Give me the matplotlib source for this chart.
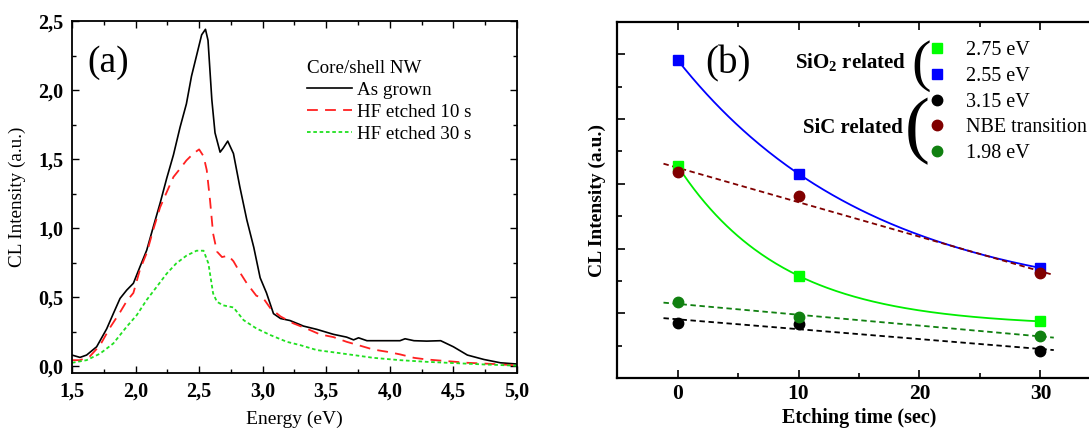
import numpy as np
import matplotlib
matplotlib.use("Agg")
import matplotlib.pyplot as plt
from matplotlib.ticker import MultipleLocator, FuncFormatter

plt.rcParams['font.family'] = ['Liberation Serif', 'DejaVu Serif']
plt.rcParams['mathtext.fontset'] = 'custom'
plt.rcParams['mathtext.rm'] = 'Liberation Serif'
plt.rcParams['mathtext.bf'] = 'Liberation Serif:bold'

# ---------------- Panel (a) data: CL spectra ----------------
E_grown = [1.50, 1.563, 1.615, 1.694, 1.773, 1.825, 1.878, 1.93, 1.983, 2.035, 2.088, 2.14,
           2.193, 2.245, 2.298, 2.35, 2.40, 2.44, 2.48, 2.52, 2.55, 2.57, 2.60, 2.625, 2.665,
           2.69, 2.725, 2.77, 2.82, 2.875, 2.93, 2.98, 3.03, 3.085, 3.14, 3.215, 3.295, 3.32,
           3.426, 3.557, 3.66, 3.715, 3.754, 3.82, 3.95, 4.08, 4.12, 4.19, 4.29, 4.40, 4.50,
           4.61, 4.74, 4.87, 5.0]
I_grown = [0.08, 0.063, 0.08, 0.14, 0.27, 0.38, 0.49, 0.55, 0.60, 0.72, 0.84, 1.01,
           1.18, 1.36, 1.53, 1.73, 1.90, 2.10, 2.25, 2.40, 2.44, 2.36, 1.93, 1.69, 1.55,
           1.58, 1.63, 1.54, 1.30, 1.06, 0.86, 0.64, 0.53, 0.38, 0.345, 0.33, 0.30, 0.29,
           0.266, 0.23, 0.21, 0.19, 0.205, 0.184, 0.184, 0.184, 0.198, 0.184, 0.181, 0.184, 0.14,
           0.08, 0.048, 0.024, 0.015]

E_10s = [1.50, 1.563, 1.64, 1.72, 1.80, 1.878, 1.93, 1.983, 2.035, 2.088, 2.14, 2.193, 2.245,
         2.298, 2.35, 2.40, 2.455, 2.50, 2.535, 2.56, 2.586, 2.61, 2.64, 2.68, 2.73, 2.77,
         2.82, 2.875, 2.95, 3.006, 3.06, 3.14, 3.24, 3.35, 3.45, 3.557, 3.66, 3.77, 3.87,
         3.977, 4.08, 4.19, 4.29, 4.45, 4.61, 4.82, 5.0]
I_10s = [0.043, 0.043, 0.07, 0.15, 0.28, 0.39, 0.47, 0.53, 0.70, 0.82, 0.99, 1.15, 1.26,
         1.37, 1.43, 1.49, 1.54, 1.57, 1.52, 1.42, 1.20, 0.96, 0.83, 0.79, 0.80, 0.76,
         0.68, 0.60, 0.51, 0.49, 0.42, 0.36, 0.31, 0.27, 0.23, 0.21, 0.176, 0.147, 0.12,
         0.104, 0.085, 0.06, 0.048, 0.036, 0.024, 0.015, 0.005]

E_30s = [1.50, 1.615, 1.72, 1.825, 1.93, 2.01, 2.088, 2.167, 2.245, 2.32, 2.40, 2.48, 2.535,
         2.573, 2.61, 2.64, 2.69, 2.77, 2.85, 2.95, 3.06, 3.19, 3.295, 3.426, 3.557, 3.715,
         3.87, 4.08, 4.29, 4.50, 4.74, 5.0]
I_30s = [0.024, 0.043, 0.09, 0.164, 0.285, 0.37, 0.48, 0.575, 0.67, 0.744, 0.80, 0.836, 0.836,
         0.744, 0.527, 0.466, 0.44, 0.425, 0.333, 0.273, 0.225, 0.176, 0.152, 0.116, 0.10, 0.08,
         0.06, 0.043, 0.031, 0.022, 0.012, 0.003]

# ---------------- Panel (b) data: intensity vs etching time ----------------
t_etch = [0, 10, 30]
I_275 = [6.56, 3.16, 1.75]   # SiO2 related 2.75 eV
I_255 = [9.83, 6.31, 3.40]   # SiO2 related 2.55 eV
I_315 = [1.70, 1.68, 0.84]   # SiC related 3.15 eV
I_nbe = [6.38, 5.61, 3.24]   # SiC related NBE transition
I_198 = [2.34, 1.88, 1.31]   # SiC related 1.98 eV

fig = plt.figure(figsize=(10.89, 4.28), dpi=100)

# ===== Panel (a) =====
axa = fig.add_axes([0.0661, 0.1285, 0.4086, 0.8224])
axa.plot(E_grown, I_grown, color='black', lw=1.2, label='As grown')
axa.plot(E_10s, I_10s, color='#ff2020', lw=1.3, dashes=(6, 4), label='HF etched 10 s')
axa.plot(E_30s, I_30s, color='#20e020', lw=1.3, dashes=(2, 1.5), label='HF etched 30 s')
axa.set_xlim(1.5, 5.0)
axa.set_ylim(-0.05, 2.5)
axa.xaxis.set_major_locator(MultipleLocator(0.5))
axa.xaxis.set_minor_locator(MultipleLocator(0.25))
axa.yaxis.set_major_locator(MultipleLocator(0.5))
axa.yaxis.set_minor_locator(MultipleLocator(0.25))
comma = FuncFormatter(lambda v, p: f"{v:.1f}".replace('.', ','))
axa.xaxis.set_major_formatter(comma)
axa.yaxis.set_major_formatter(comma)
axa.tick_params(which='both', direction='in', top=True, right=True, width=1.0)
axa.tick_params(which='major', length=5, labelsize=14.5, pad=6)
axa.tick_params(which='minor', length=3)
for lab in axa.get_xticklabels() + axa.get_yticklabels():
    lab.set_fontweight('bold')
for s in axa.spines.values():
    s.set_linewidth(1.3)
axa.set_xlabel('Energy (eV)', fontsize=14, labelpad=7)
axa.set_ylabel('CL Intensity (a.u.)', fontsize=13.8, labelpad=9)
axa.text(0.035, 0.93, '(a)', transform=axa.transAxes, fontsize=27, va='top', ha='left')
lega = axa.legend(title='Core/shell NW', loc='upper left', bbox_to_anchor=(0.528, 0.89),
                  frameon=False, fontsize=13.7, title_fontsize=13.7, handlelength=2.35,
                  handletextpad=0.26, labelspacing=0.25, borderpad=0, borderaxespad=0)
lega._legend_box.align = 'left'

# ===== Panel (b) =====
axb = fig.add_axes([0.5666, 0.1168, 0.4444, 0.8318])
# fit curves
tf = np.linspace(0, 30, 200)
def expfit(y):
    y0, y10, y30 = y
    q = (y10 - y30) / (y0 - y10)
    r = (-1 + np.sqrt(1 + 4 * q)) / 2
    a = (y0 - y10) / (1 - r)
    c = y0 - a
    return a * r ** (tf / 10.0) + c
axb.plot(tf, expfit(I_255), color='#0000ff', lw=1.3)
axb.plot(tf, expfit(I_275), color='#00ee00', lw=1.3)
tl = np.array([-1.16, 31.1])
for y, col in [(I_nbe, '#800000'), (I_198, '#108010'), (I_315, 'black')]:
    k, b0 = np.polyfit(t_etch, y, 1)
    axb.plot(tl, k * tl + b0, color=col, lw=1.3, dashes=(3, 2))

h1, = axb.plot(t_etch, I_275, 's', color='#00ff00', ms=7, mec='#00ff00', label='2.75 eV')
h2, = axb.plot(t_etch, I_255, 's', color='#0000ff', ms=7, label='2.55 eV')
h3, = axb.plot(t_etch, I_315, 'o', color='black', ms=7.5, label='3.15 eV')
h4, = axb.plot(t_etch, I_nbe, 'o', color='#800000', ms=7.5, label='NBE transition')
h5, = axb.plot(t_etch, I_198, 'o', color='#108010', ms=7.5, label='1.98 eV')

axb.set_xlim(-5, 35)
axb.set_ylim(0, 11)
axb.xaxis.set_major_locator(MultipleLocator(10))
axb.xaxis.set_minor_locator(MultipleLocator(5))
axb.yaxis.set_major_locator(MultipleLocator(2))
axb.yaxis.set_minor_locator(MultipleLocator(1))
axb.tick_params(which='both', direction='in', top=True, right=False, labelleft=False, width=1.2)
axb.tick_params(which='major', length=6, labelsize=15.5, pad=4.5)
axb.tick_params(which='minor', length=3.5)
for lab in axb.get_xticklabels():
    lab.set_fontweight('bold')
for s in axb.spines.values():
    s.set_linewidth(1.6)
axb.set_xlabel('Etching time (sec)', fontsize=14.5, fontweight='bold', va='center')
axb.xaxis.set_label_coords(0.5, -(418 - 378) / 356)
axb.set_ylabel('CL Intensity (a.u.)', fontsize=14, fontweight='bold', labelpad=8)
axb.text(0.183, 0.935, '(b)', transform=axb.transAxes, fontsize=28, va='top', ha='left')

legb = fig.legend(handles=[h1, h2, h3, h4, h5], loc='upper left',
                  bbox_to_anchor=(927 / 1089, 1 - 41 / 428), frameon=False, fontsize=14.5,
                  handlelength=1.0, handletextpad=0.95, labelspacing=0.33, borderpad=0,
                  borderaxespad=0)

fig.text(906 / 1089, 1 - 63 / 428, r'SiO$_{\mathbf{2}}$ related', fontsize=15, fontweight='bold',
         ha='right', va='center')
fig.text(903 / 1089, 1 - 128 / 428, 'SiC related', fontsize=15, fontweight='bold',
         ha='right', va='center')
fig.text(921 / 1089, 1 - 66 / 428, '(', fontsize=42, ha='center', va='center')
fig.text(917 / 1089, 1 - 131 / 428, '(', fontsize=54, ha='center', va='center')

fig.savefig('out.png', dpi=100)
